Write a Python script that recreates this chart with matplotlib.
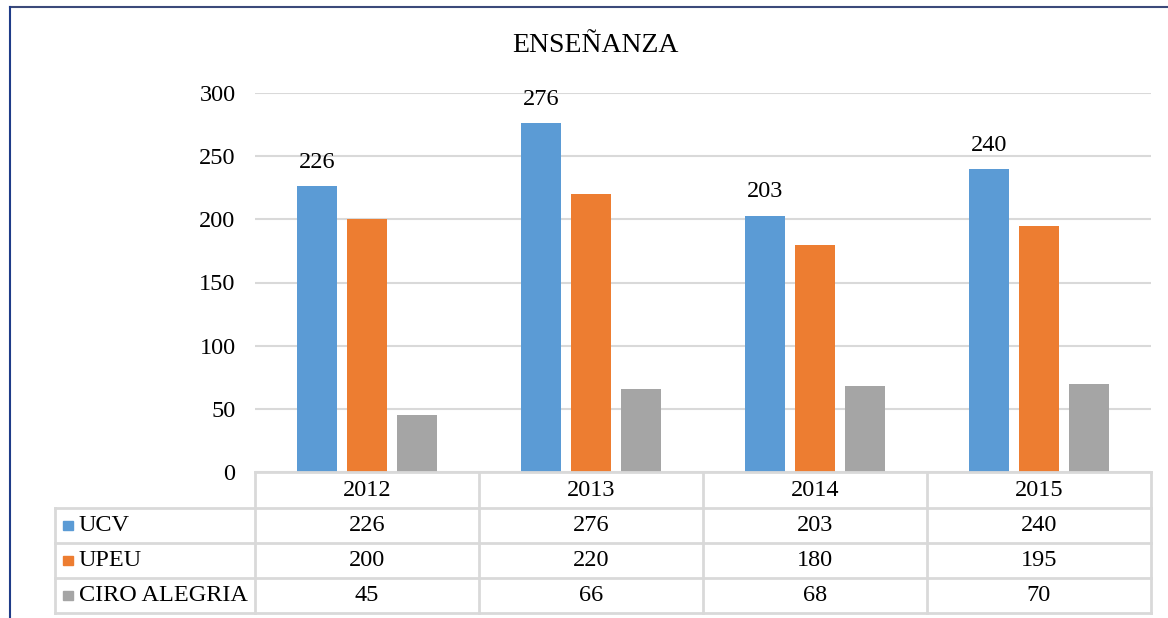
import matplotlib
matplotlib.use("Agg")
import matplotlib.pyplot as plt
import matplotlib.transforms as mtransforms
from matplotlib.lines import Line2D
from matplotlib.patches import Rectangle
import numpy as np

plt.rcParams['font.family'] = ['Liberation Serif', 'DejaVu Serif']

years = ["2012", "2013", "2014", "2015"]
series = ["UCV", "UPEU", "CIRO ALEGRIA"]
ucv = [226, 276, 203, 240]
upeu = [200, 220, 180, 195]
ciro = [45, 66, 68, 70]
colors = ["#5B9BD5", "#ED7D31", "#A5A5A5"]
yticks = [0, 50, 100, 150, 200, 250, 300]

W, H = 1168, 618
FS = 17.5
fig = plt.figure(figsize=(W / 100, H / 100), dpi=100)

def fy(py):
    # pixel row (from top) -> figure fraction
    return (H - py) / H

def fx(px):
    return px / W

ax = fig.add_axes([fx(255), fy(472), fx(1151) - fx(255), fy(93) - fy(472)])
x = np.arange(len(years))
offs = [-0.223, 0.0, 0.223]
bw = 0.1786
values = [ucv, upeu, ciro]
for i, vals in enumerate(values):
    ax.bar(x + offs[i], vals, bw, color=colors[i], zorder=3)

for xi, v in zip(x, ucv):
    ax.annotate(str(v), (xi + offs[0], v), xytext=(0, 17), textcoords="offset points",
                ha="center", va="center", fontsize=FS)

ax.set_xlim(-0.5, 3.5)
ax.set_ylim(0, 300)
ax.set_yticks(yticks)
ax.set_yticklabels([str(t) for t in yticks], fontsize=FS)
ax.tick_params(axis="y", length=0, pad=14)
ax.set_xticks([])
ax.grid(axis="y", color="#d9d9d9", lw=1.5, zorder=0)
for s in ax.spines.values():
    s.set_visible(False)

fig.text(fx(595), fy(45), "ENSEÑANZA", ha="center", va="center", fontsize=20)

# outer frame lines (top and left)
fig.add_artist(Line2D([fx(10), 1], [fy(7), fy(7)], color="#3b4a7a", lw=1.5))
fig.add_artist(Line2D([fx(10), fx(10)], [fy(7), 0], color="#1f3c88", lw=1.5))

# data table
tr = mtransforms.blended_transform_factory(ax.transData, fig.transFigure)
grid_c = "#d9d9d9"
row_y = [472, 508, 543, 578, 613]
bounds = np.arange(len(years) + 1) - 0.5
left_px = 55
for k, py in enumerate(row_y):
    x0 = 255 if k == 0 else left_px
    fig.add_artist(Line2D([fx(x0), fx(1151)], [fy(py), fy(py)], color=grid_c, lw=2))
for b in bounds:
    ax.add_line(Line2D([b, b], [fy(472), fy(613)], color=grid_c, lw=2,
                       transform=tr, clip_on=False))
fig.add_artist(Line2D([fx(left_px), fx(left_px)], [fy(508), fy(613)], color=grid_c, lw=2))

for j, yr in enumerate(years):
    ax.text(j, fy((472 + 508) / 2), yr, transform=tr, ha="center", va="center", fontsize=FS)
for i, (name, vals) in enumerate(zip(series, values)):
    yc = fy((row_y[i + 1] + row_y[i + 2]) / 2)
    fig.add_artist(Rectangle((fx(63), yc - 4.5 / H), 9.5 / W, 9.5 / H,
                             transform=fig.transFigure, color=colors[i]))
    fig.text(fx(79), yc, name, ha="left", va="center", fontsize=FS)
    for j, v in enumerate(vals):
        ax.text(j, yc, str(v), transform=tr, ha="center", va="center", fontsize=FS)

fig.savefig("out.png", dpi=100)
